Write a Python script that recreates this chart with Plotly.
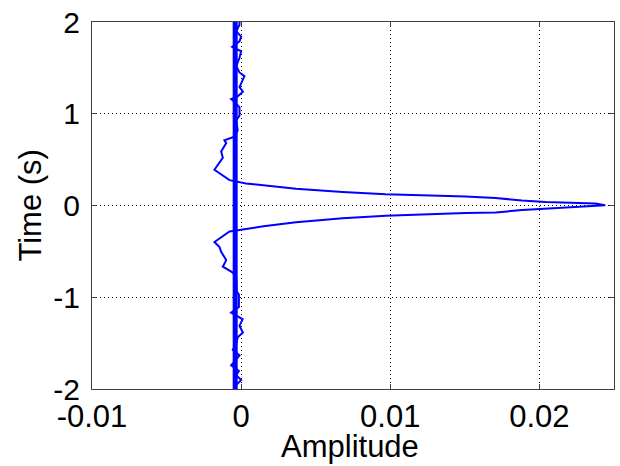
import plotly.graph_objects as go

# Main curve: time (s) and amplitude, traced from top (t=2) to bottom (t=-2)
time_s = [
    2.00, 1.97, 1.90, 1.84, 1.79, 1.73, 1.68, 1.61, 1.52, 1.45, 1.41, 1.34, 1.29,
    1.24, 1.19, 1.16, 1.13, 1.07, 0.98, 0.93, 0.82, 0.75,
    0.71, 0.68, 0.59, 0.52, 0.39,
    0.276, 0.240, 0.183, 0.147, 0.122, 0.111, 0.097, 0.082, 0.054, 0.039, 0.032,
    0.029, 0.022, 0.004,
    -0.011, -0.022, -0.032, -0.050, -0.075, -0.082, -0.093, -0.111, -0.140,
    -0.183, -0.226, -0.283,
    -0.398, -0.452, -0.505, -0.595, -0.667, -0.731,
    -0.792, -0.935, -0.970, -1.107, -1.168, -1.204, -1.240, -1.312, -1.384,
    -1.437, -1.509, -1.573, -1.634, -1.742, -1.803, -1.849, -1.903, -1.975, -2.00,
]
amplitude = [
    -0.00011, -0.00011, -0.00033, 0.0, -0.00011, -0.00060, 0.0, -0.00011, -0.00033,
    -0.00011, 0.00022, 0.0, -0.00011, 0.00012, -0.00023, -0.00067, -0.00045,
    -0.00011, -0.00011, -0.00033, -0.00023, -0.00045,
    -0.00112, -0.00100, -0.00134, -0.00123, -0.00179,
    -0.00078, 0.00033, 0.00368, 0.00680, 0.00970, 0.01237, 0.01505, 0.01706,
    0.01884, 0.02040, 0.02196, 0.02308, 0.02375, 0.02441,
    0.02311, 0.02196, 0.02063, 0.01884, 0.01706, 0.01505, 0.01237, 0.00970,
    0.00680, 0.00368, 0.00150, -0.00078,
    -0.00179, -0.00145, -0.00134, -0.00100, -0.00123, -0.00056,
    -0.00033, -0.00030, -0.00015, -0.00015, -0.00067, -0.00023, 0.00010,
    -0.00011, 0.00012, -0.00023, -0.00033, -0.00056, -0.00011, -0.00067,
    -0.00015, -0.00033, 0.0, -0.00045, -0.00033,
]

# Thick vertical reference line
ref_amp = [-0.0004, -0.0004]
ref_time = [-2, 2]

x_ticks = [-0.01, 0, 0.01, 0.02]
x_tick_text = ["-0.01", "0", "0.01", "0.02"]
y_ticks = [-2, -1, 0, 1, 2]
y_tick_text = ["-2", "-1", "0", "1", "2"]
x_title = "Amplitude"
y_title = "Time (s)"

font = dict(family="Arial, Liberation Sans, sans-serif", size=31, color="black")
yfont = dict(family="Arial, Liberation Sans, sans-serif", size=30, color="black")

fig = go.Figure()
fig.add_trace(go.Scatter(x=ref_amp, y=ref_time, mode="lines",
                         line=dict(color="#0000FF", width=5), showlegend=False))
fig.add_trace(go.Scatter(x=amplitude, y=time_s, mode="lines",
                         line=dict(color="#0000FF", width=2), showlegend=False))

axis_common = dict(
    showgrid=True, gridcolor="black", gridwidth=1, griddash="1px,3px",
    zeroline=False, showline=True, linecolor="#404040", linewidth=1,
    mirror="allticks", ticks="inside", ticklen=5, tickcolor="#404040",
)

fig.update_layout(
    width=620, height=466,
    margin=dict(l=92, r=5, t=17, b=77),
    paper_bgcolor="white", plot_bgcolor="white",
    font=font,
    xaxis=dict(range=[-0.01, 0.025], tickvals=x_ticks, ticktext=x_tick_text,
               ticklabelstandoff=0, tickfont=font, **axis_common),
    yaxis=dict(range=[-2, 2], tickvals=y_ticks, ticktext=y_tick_text,
               ticklabelstandoff=5, tickfont=yfont, **axis_common),
    annotations=[
        dict(text=x_title, xref="paper", yref="paper", x=(350 - 92) / 523,
             y=-(447 - 389) / 372, xanchor="center", yanchor="middle",
             showarrow=False, font=font),
        dict(text=y_title, xref="paper", yref="paper", x=-(92 - 30) / 523,
             y=(389 - 203) / 372, xanchor="center", yanchor="middle",
             textangle=-90, showarrow=False, font=font),
    ],
)

fig.write_html("out.html")
